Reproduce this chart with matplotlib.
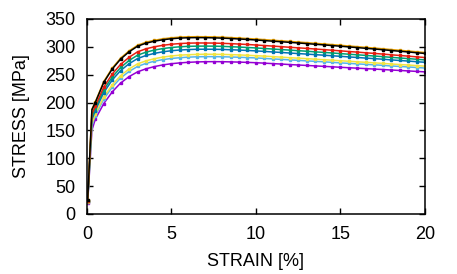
import matplotlib
matplotlib.use("Agg")
import matplotlib.pyplot as plt

plt.rcParams["font.family"] = ["Liberation Sans", "DejaVu Sans"]

strain = [0.05, 0.3, 0.5, 1, 1.5, 2, 2.5, 3, 3.5, 4, 4.5, 5, 5.5, 6, 6.5, 7,
          7.5, 8, 8.5, 9, 9.5, 10, 10.5, 11, 11.5, 12, 12.5, 13, 13.5, 14,
          14.5, 15, 15.5, 16, 16.5, 17, 17.5, 18, 18.5, 19, 19.5, 20]

stress_purple = [20, 150, 170, 198, 219, 235, 246.5, 255, 260.5, 264.5, 267.5,
                 269.6, 271.1, 272.1, 272.8, 273.2, 273.3, 273.2, 272.9, 272.5,
                 272, 271.4, 270.6, 269.8, 269, 268.1, 267.3, 266.5, 265.7,
                 264.9, 264.1, 263.2, 262.4, 261.6, 260.8, 260, 259.2, 258.3,
                 257.5, 256.7, 255.8, 255]
stress_sky = [21, 157.8, 176.3, 206, 227.6, 244, 255.8, 264.7, 270.2, 274.1,
              277, 279, 280.4, 281.4, 282, 282.3, 282.3, 282.1, 281.7, 281.2,
              280.6, 280, 279.1, 278.2, 277.4, 276.5, 275.6, 274.7, 273.8, 273,
              272.1, 271.1, 270.2, 269.3, 268.4, 267.6, 266.7, 265.6, 264.7,
              263.8, 262.8, 261.9]
stress_yellow = [21.5, 161.5, 179.3, 209.8, 231.7, 248.3, 260.3, 269.3, 274.8,
                 278.6, 281.5, 283.5, 284.9, 285.8, 286.3, 286.6, 286.5, 286.3,
                 285.9, 285.4, 284.7, 284, 283.2, 282.3, 281.4, 280.4, 279.5,
                 278.7, 277.7, 276.8, 275.9, 274.9, 274, 273, 272.1, 271.2,
                 270.2, 269.1, 268.2, 267.2, 266.2, 265.2]
stress_blue = [22.6, 169.2, 185.6, 217.8, 240.3, 257.4, 269.6, 278.9, 284.4,
               288.2, 291, 292.9, 294.2, 295, 295.5, 295.6, 295.5, 295.2, 294.7,
               294.1, 293.4, 292.6, 291.7, 290.7, 289.8, 288.8, 287.8, 286.9,
               285.9, 284.9, 283.9, 282.9, 281.8, 280.8, 279.7, 278.7, 277.7,
               276.5, 275.4, 274.4, 273.2, 272.2]
stress_green = [23.2, 174, 189.5, 222.7, 245.6, 262.9, 275.4, 284.9, 290.4,
                294.1, 296.8, 298.7, 300, 300.8, 301.1, 301.2, 301.1, 300.7,
                300.1, 299.5, 298.7, 297.9, 296.9, 295.9, 295, 294, 293, 292,
                290.9, 289.9, 288.9, 287.8, 286.6, 285.6, 284.5, 283.4, 282.3,
                281, 279.9, 278.8, 277.6, 276.4]
stress_red = [23.9, 178.9, 193.4, 227.6, 251, 268.5, 281.2, 290.9, 296.4, 300,
              302.7, 304.5, 305.8, 306.5, 306.8, 306.8, 306.6, 306.2, 305.6,
              304.9, 304.1, 303.2, 302.2, 301.2, 300.2, 299.1, 298.1, 297.1,
              296, 294.9, 293.8, 292.7, 291.5, 290.4, 289.2, 288.1, 286.9,
              285.6, 284.4, 283.2, 281.9, 280.7]
stress_orange = [25, 188, 201, 237.7, 261.7, 279.7, 292.7, 302.7, 308.2, 311.7,
                 314.3, 316.1, 317.3, 317.9, 318.1, 318, 317.7, 317.2, 316.5,
                 315.7, 314.8, 313.9, 312.8, 311.7, 310.7, 309.6, 308.5, 307.4,
                 306.2, 305.1, 303.9, 302.7, 301.4, 300.2, 298.9, 297.7, 296.4,
                 295, 293.7, 292.4, 291, 289.7]
stress_black = [25, 187, 200, 236, 260, 278, 291, 301, 306.5, 310, 312.6,
                314.4, 315.6, 316.2, 316.4, 316.3, 316, 315.5, 314.8, 314,
                313.1, 312.2, 311.1, 310, 309, 307.9, 306.8, 305.7, 304.5,
                303.4, 302.2, 301, 299.7, 298.5, 297.2, 296, 294.7, 293.3, 292,
                290.7, 289.3, 288]

series = [
    (stress_purple, "#9400D3"),
    (stress_sky, "#56B4E9"),
    (stress_yellow, "#F0E442"),
    (stress_blue, "#0072B2"),
    (stress_green, "#009E73"),
    (stress_red, "#E51E10"),
    (stress_orange, "#E69F00"),
    (stress_black, "#000000"),
]

fig = plt.figure(figsize=(4.57, 2.74), dpi=100)
ax = fig.add_axes([0.19, 0.219, 0.74, 0.712])

for values, color in series:
    ax.plot(strain, values, color=color, lw=1.1, marker="s", ms=1.9,
            mec=color, mfc=color, markevery=[0] + list(range(2, len(strain))))

ax.set_xlim(0, 20)
ax.set_ylim(0, 350)
ax.set_xticks(range(0, 21, 5))
ax.set_yticks(range(0, 351, 50))
ax.tick_params(direction="in", top=True, right=True, length=4.5, width=1,
               labelsize=13)
ax.tick_params(axis="x", pad=9)
ax.tick_params(axis="y", pad=8)
for sp in ax.spines.values():
    sp.set_linewidth(1.1)
ax.set_xlabel("STRAIN [%]", fontsize=13, labelpad=7)
ax.set_ylabel("STRESS [MPa]", fontsize=13, labelpad=11)

fig.savefig("out.png", dpi=100)
